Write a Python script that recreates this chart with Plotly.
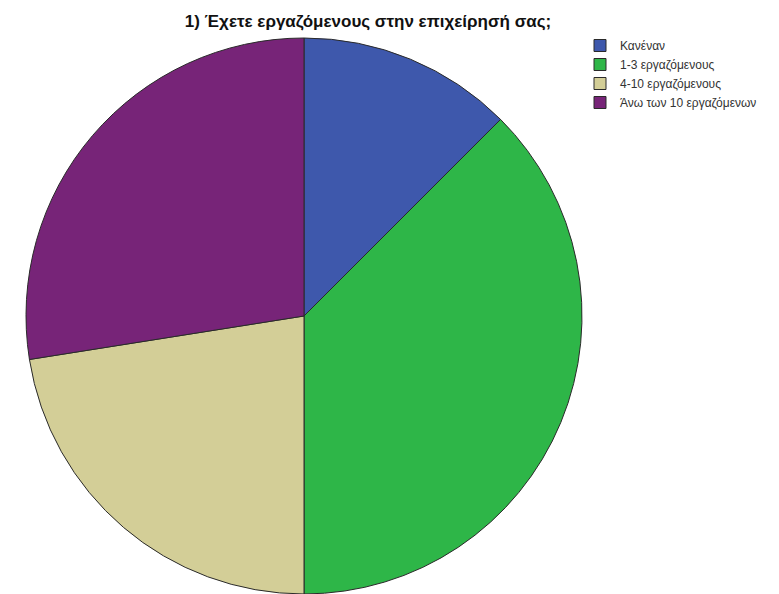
import plotly.graph_objects as go

# Responses to question 1 (number of employees)
categories = ["Κανέναν", "1-3 εργαζόμενους", "4-10 εργαζόμενους", "Άνω των 10 εργαζόμενων"]
counts = [5, 15, 9, 11]
colors = ["#3e58ac", "#2eb648", "#d3ce97", "#772478"]

title_text = "1) Έχετε εργαζόμενους στην επιχείρησή σας;"

W, H = 779, 594
r = 278
cx = 304

fig = go.Figure(
    go.Pie(
        labels=categories,
        values=counts,
        sort=False,
        direction="clockwise",
        rotation=0,
        textinfo="none",
        hoverinfo="label+value+percent",
        marker=dict(colors=colors, line=dict(color="#2a2a2a", width=1)),
        domain=dict(x=[(cx - r) / W, (cx + r) / W], y=[0, 2 * r / H]),
    )
)

fig.update_layout(
    width=W,
    height=H,
    margin=dict(l=0, r=0, t=0, b=0),
    paper_bgcolor="white",
    plot_bgcolor="white",
    font=dict(family="Liberation Sans, Arial, sans-serif", color="#222"),
    title=dict(
        text="<b>" + title_text + "</b>",
        x=368 / W,
        xanchor="center",
        y=1 - 21 / H,
        yanchor="middle",
        font=dict(size=17, color="#111"),
    ),
    legend=dict(
        x=580 / W,
        xanchor="left",
        y=1 - 31 / H,
        yanchor="top",
        font=dict(size=12, color="#333"),
        bgcolor="rgba(0,0,0,0)",
        tracegroupgap=0,
    ),
)

fig.write_html("out.html")
